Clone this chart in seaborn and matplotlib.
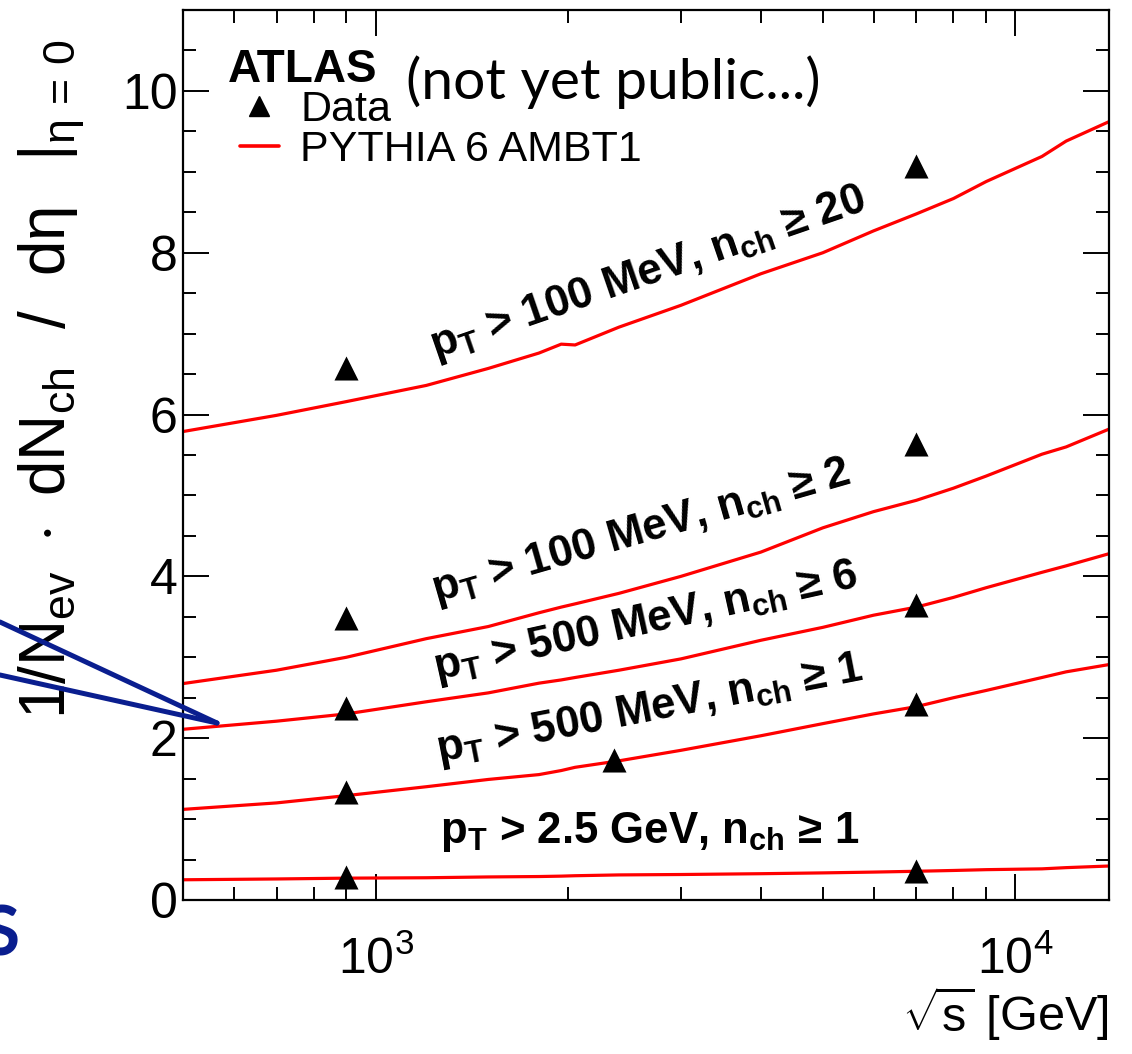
import numpy as np
import pandas as pd
import matplotlib
matplotlib.use("Agg")
import matplotlib.pyplot as plt
import seaborn as sns
from matplotlib.lines import Line2D
from matplotlib.ticker import MultipleLocator, LogLocator, NullFormatter

# ---------------- data ----------------
energy_gev = [500, 700, 900, 1200, 1500, 1800, 1950, 2050, 2400, 3000, 4000,
              5000, 6000, 7000, 8000, 9000, 11000, 12000, 14000]
pythia_pt100_n20 = [5.79, 5.99, 6.16, 6.36, 6.57, 6.76, 6.87, 6.86, 7.08, 7.35, 7.74,
                    8.00, 8.27, 8.48, 8.67, 8.88, 9.19, 9.38, 9.62]
pythia_pt100_n2 = [2.675, 2.84, 3.00, 3.23, 3.38, 3.55, 3.62, 3.66, 3.79, 4.00, 4.30,
                   4.60, 4.80, 4.94, 5.09, 5.24, 5.51, 5.60, 5.82]
pythia_pt500_n6 = [2.11, 2.21, 2.30, 2.45, 2.56, 2.68, 2.72, 2.75, 2.84, 2.98, 3.21,
                   3.37, 3.52, 3.62, 3.74, 3.86, 4.05, 4.13, 4.28]
pythia_pt500_n1 = [1.12, 1.20, 1.29, 1.40, 1.49, 1.55, 1.60, 1.64, 1.72, 1.85, 2.03,
                   2.18, 2.30, 2.39, 2.50, 2.59, 2.75, 2.82, 2.91]
pythia_pt2500_n1 = [0.25, 0.26, 0.27, 0.275, 0.285, 0.29, 0.295, 0.30, 0.31, 0.315, 0.325,
                    0.335, 0.345, 0.355, 0.365, 0.375, 0.385, 0.40, 0.42]

data_energy_2 = [900, 7000]
data_energy_3 = [900, 2360, 7000]
data_pt100_n20 = [6.58, 9.07]
data_pt100_n2 = [3.48, 5.63]
data_pt500_n6 = [2.37, 3.64]
data_pt500_n1 = [1.34, 1.73, 2.42]
data_pt2500_n1 = [0.28, 0.36]

curve_labels = [
    r"$\mathbf{p_{T}}$ > 100 MeV, $\mathbf{n_{ch}}$ ≥ 20",
    r"$\mathbf{p_{T}}$ > 100 MeV, $\mathbf{n_{ch}}$ ≥ 2",
    r"$\mathbf{p_{T}}$ > 500 MeV, $\mathbf{n_{ch}}$ ≥ 6",
    r"$\mathbf{p_{T}}$ > 500 MeV, $\mathbf{n_{ch}}$ ≥ 1",
    r"$\mathbf{p_{T}}$ > 2.5 GeV, $\mathbf{n_{ch}}$ ≥ 1",
]

# ---------------- style ----------------
sns.set_theme(style="ticks")
plt.rcParams["font.family"] = ["Liberation Sans", "DejaVu Sans"]
plt.rcParams["mathtext.fontset"] = "custom"
plt.rcParams["mathtext.rm"] = "Liberation Sans"
plt.rcParams["mathtext.it"] = "Liberation Sans:italic"
plt.rcParams["mathtext.bf"] = "Liberation Sans:bold"
plt.rcParams["mathtext.sf"] = "Liberation Sans"
for key in ["text.color", "axes.labelcolor", "xtick.color", "ytick.color",
            "xtick.labelcolor", "ytick.labelcolor", "axes.edgecolor"]:
    plt.rcParams[key] = "black"

W, H = 1132, 1054
fig = plt.figure(figsize=(W / 100, H / 100), dpi=100)
ax = fig.add_axes([183 / W, 1 - 900 / H, (1109 - 183) / W, (900 - 10) / H])
ax.set_xscale("log")

curves = [pythia_pt100_n20, pythia_pt100_n2, pythia_pt500_n6, pythia_pt500_n1, pythia_pt2500_n1]
for vals in curves:
    df = pd.DataFrame({"energy": energy_gev, "value": vals})
    sns.lineplot(data=df, x="energy", y="value", ax=ax, color="#ff0000", lw=2.3,
                 estimator=None, sort=True)

points = [(data_energy_2, data_pt100_n20), (data_energy_2, data_pt100_n2),
          (data_energy_2, data_pt500_n6), (data_energy_3, data_pt500_n1),
          (data_energy_2, data_pt2500_n1)]
for xs, ys in points:
    dfp = pd.DataFrame({"energy": xs, "value": ys})
    sns.scatterplot(data=dfp, x="energy", y="value", ax=ax, marker="^", s=300,
                    color="black", edgecolor="black", linewidth=0, zorder=5)

ax.set_xlim(500, 14000)
ax.set_ylim(0, 11)
ax.yaxis.set_major_locator(MultipleLocator(2))
ax.yaxis.set_minor_locator(MultipleLocator(0.5))
ax.xaxis.set_major_locator(LogLocator(base=10))
ax.xaxis.set_minor_locator(LogLocator(base=10, subs=np.arange(2, 10)))
ax.xaxis.set_minor_formatter(NullFormatter())

for sp in ax.spines.values():
    sp.set_linewidth(1.6)
    sp.set_color("black")
ax.tick_params(which="both", direction="in", top=True, right=True, width=1.4,
               color="black", labelcolor="black")
ax.tick_params(which="major", length=19, labelsize=36)
ax.tick_params(axis="y", which="major", pad=4)
ax.tick_params(axis="x", which="major", pad=26)
ax.tick_params(which="minor", length=9.5)

ax.set_xlabel(r"$\sqrt{\mathrm{s}}$ [GeV]", fontsize=35, ha="right", color="black")
ax.xaxis.set_label_coords(1.0, -0.095)
ax.set_ylabel(r"$\left.\mathrm{1/N_{ev}\ \cdot\ dN_{ch}\ \ /\ \ d\eta}\ \ \,\right|_{\mathrm{\eta\,=\,0}}$",
              fontsize=46, color="black")
ax.yaxis.set_label_coords(-0.104, 0.585)

# curve labels (axes fraction positions)
label_pos = [(0.273, 0.608, 19.0), (0.273, 0.334, 16.0), (0.274, 0.247, 12.5),
             (0.276, 0.155, 11.0), (0.278, 0.064, 0.0)]
for txt, (lx, ly, rot) in zip(curve_labels, label_pos):
    ax.text(lx, ly, txt, transform=ax.transAxes, rotation=rot, rotation_mode="anchor",
            ha="left", va="baseline", fontsize=31.5, fontweight="bold", color="black")

# legend
handles = [Line2D([], [], marker="^", ls="none", color="black", markersize=14),
           Line2D([], [], color="#ff0000", lw=2.6)]
leg = ax.legend(handles, ["Data", "PYTHIA 6 AMBT1"], loc="upper left",
                bbox_to_anchor=((240 - 183) / 926, (900 - 90) / 890),
                frameon=False, fontsize=31, handlelength=0.9, handletextpad=0.5,
                labelspacing=0.0, borderpad=0.0, borderaxespad=0.0,
                labelcolor="black")

# title
fig.text(228 / W, 1 - 82 / H, "ATLAS", fontsize=33, fontweight="bold", ha="left",
         va="baseline", color="black")
fig.text(406 / W, 1 - 99 / H, "(not yet public...)", fontsize=41, ha="left",
         va="baseline", color="black", family=["Lato", "DejaVu Sans"])

# slide overlay (blue pointer lines and clipped letter)
navy = "#0a1e8f"
fig.add_artist(Line2D([0, 217 / W], [1 - 622 / H, 1 - 723 / H], color=navy, lw=3.6))
fig.add_artist(Line2D([0, 217 / W], [1 - 675 / H, 1 - 723 / H], color=navy, lw=3.6))
fig.text(20 / W, 1 - 955 / H, "S", fontsize=50, color=navy, fontweight="bold",
         ha="right", va="baseline", family=["Lato", "DejaVu Sans"])

fig.savefig("out.png", dpi=100)
